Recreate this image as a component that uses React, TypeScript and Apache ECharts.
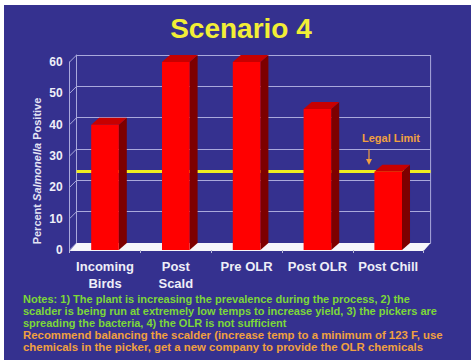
import React, { useEffect, useRef } from "react";
import * as echarts from "echarts";

const TITLE = "Scenario 4";
const CATEGORIES = ["Incoming\nBirds", "Post\nScald", "Pre OLR", "Post OLR", "Post Chill"];
const VALUES = [40, 60, 60, 45, 25];
const LEGAL_LIMIT = 23;
const Y_MIN = 0;
const Y_MAX = 60;
const Y_STEP = 10;
const Y_TICKS = [0, 10, 20, 30, 40, 50, 60];
const LEGAL_LABEL = "Legal Limit";
const NOTES_GREEN = [
  "Notes: 1) The plant is increasing the prevalence during the process, 2) the",
  "scalder is being run at extremely low temps to increase yield, 3) the pickers are",
  "spreading the bacteria, 4) the OLR is not sufficient",
];
const NOTES_ORANGE = [
  "Recommend balancing the scalder (increase temp to a minimum of 123 F, use",
  "chemicals in the picker, get a new company to provide the OLR chemicals",
];

const BG = "#35318f";
const GRID_COLOR = "#a9a9dc";
const FONT = "'Liberation Sans', Arial, sans-serif";
const DX = 7;
const DY = -7;

export default function App() {
  const ref = useRef<HTMLDivElement>(null);
  useEffect(() => {
    if (!ref.current) return;
    const chart = echarts.init(ref.current, null, { renderer: "svg" });

    const frontGrid = { left: 69.6, top: 62, width: 354, height: 188 };
    const backGrid = { left: 69.6 + DX, top: 62 + DY, width: 354, height: 188 };

    const graphics: any[] = [
      {
        type: "rect",
        z: -10,
        shape: { x: 4, y: 5, width: 471, height: 360 },
        style: { fill: BG },
        silent: true,
      },
      {
        type: "text",
        x: 241,
        y: 28,
        style: {
          text: TITLE,
          fill: "#f2ee36",
          font: `bold 28px ${FONT}`,
          align: "center",
          verticalAlign: "middle",
        },
      },
      {
        type: "text",
        x: 37,
        y: 171,
        rotation: Math.PI / 2,
        style: {
          text: "{a|Percent }{b|Salmonella}{a| Positive}",
          align: "center",
          verticalAlign: "middle",
          rich: {
            a: { fill: "#e4e4f4", font: `bold 11px ${FONT}` },
            b: { fill: "#e4e4f4", font: `italic bold 11px ${FONT}` },
          },
        },
      },
      {
        type: "text",
        x: 391,
        y: 138,
        z: 20,
        style: {
          text: LEGAL_LABEL,
          fill: "#f0a040",
          font: `bold 11px ${FONT}`,
          align: "center",
          verticalAlign: "middle",
        },
      },
      {
        type: "line",
        z: 20,
        shape: { x1: 369, y1: 149, x2: 369, y2: 160 },
        style: { stroke: "#f0a040", lineWidth: 1.2 },
      },
      {
        type: "polygon",
        z: 20,
        shape: { points: [[366, 159], [372, 159], [369, 165]] },
        style: { fill: "#f0a040" },
      },
    ];
    NOTES_GREEN.forEach((t, i) => {
      graphics.push({
        type: "text",
        x: 23,
        y: 299 + i * 12,
        style: { text: t, fill: "#7cd838", font: `bold 11px ${FONT}`, verticalAlign: "middle" },
      });
    });
    NOTES_ORANGE.forEach((t, i) => {
      graphics.push({
        type: "text",
        x: 23,
        y: 335 + i * 12,
        style: { text: t, fill: "#f0a040", font: `bold 11.4px ${FONT}`, verticalAlign: "middle" },
      });
    });

    const option: any = {
      animation: false,
      backgroundColor: "#ffffff",
      graphic: graphics,
      grid: [
        { ...frontGrid, containLabel: false },
        { ...backGrid, containLabel: false },
      ],
      xAxis: [
        {
          type: "category",
          gridIndex: 0,
          data: CATEGORIES,
          axisLine: { show: false },
          axisTick: { show: true, length: 3, lineStyle: { color: "#b8b8d8" } },
          axisLabel: {
            interval: 0,
            color: "#eeeef8",
            fontFamily: FONT,
            fontWeight: "bold",
            fontSize: 13,
            lineHeight: 17,
            margin: 8,
          },
          z: 15,
        },
        {
          type: "category",
          gridIndex: 1,
          data: CATEGORIES,
          show: false,
        },
      ],
      yAxis: [
        {
          type: "value",
          gridIndex: 0,
          min: Y_MIN,
          max: Y_MAX,
          interval: Y_STEP,
          splitLine: { show: false },
          axisTick: { show: false },
          axisLine: { show: true, lineStyle: { color: GRID_COLOR, width: 1 } },
          axisLabel: {
            color: "#eeeef8",
            fontFamily: FONT,
            fontWeight: "bold",
            fontSize: 12,
            margin: 7,
          },
        },
        {
          type: "value",
          gridIndex: 1,
          min: Y_MIN,
          max: Y_MAX,
          interval: Y_STEP,
          axisLabel: { show: false },
          axisTick: { show: false },
          axisLine: { show: true, lineStyle: { color: GRID_COLOR, width: 1 } },
          splitLine: { show: true, lineStyle: { color: GRID_COLOR, width: 1 } },
        },
      ],
      series: [
        {
          type: "custom",
          name: "walls",
          xAxisIndex: 1,
          yAxisIndex: 1,
          z: 1,
          data: Y_TICKS.map((v) => [0, v]),
          encode: { x: 0, y: 1 },
          renderItem: (params: any, api: any) => {
            const cs = params.coordSys;
            const p = api.coord([0, api.value(1)]);
            const children: any[] = [
              {
                type: "line",
                shape: { x1: cs.x, y1: p[1], x2: cs.x - DX, y2: p[1] - DY },
                style: { stroke: GRID_COLOR, lineWidth: 1 },
              },
            ];
            if (params.dataIndex === 0) {
              children.push({
                type: "line",
                shape: { x1: cs.x + cs.width, y1: cs.y, x2: cs.x + cs.width, y2: cs.y + cs.height },
                style: { stroke: GRID_COLOR, lineWidth: 1 },
              });
            }
            return { type: "group", children };
          },
          markLine: {
            silent: true,
            symbol: "none",
            label: { show: false },
            lineStyle: { color: "#f0ee20", width: 3, type: "solid" },
            data: [{ yAxis: LEGAL_LIMIT }],
          },
        },
        {
          type: "custom",
          name: "floor",
          xAxisIndex: 0,
          yAxisIndex: 0,
          z: 5,
          data: [[0, 0]],
          encode: { x: 0, y: 1 },
          renderItem: (params: any) => {
            const cs = params.coordSys;
            const yb = cs.y + cs.height;
            return {
              type: "polygon",
              shape: {
                points: [
                  [cs.x, yb + 1],
                  [cs.x + cs.width, yb + 1],
                  [cs.x + cs.width + DX, yb + DY],
                  [cs.x + DX, yb + DY],
                ],
              },
              style: { fill: "#f6f6fa" },
            };
          },
        },
        {
          type: "custom",
          name: "Percent Salmonella Positive",
          xAxisIndex: 0,
          yAxisIndex: 0,
          z: 10,
          data: VALUES.map((v, i) => [i, v]),
          encode: { x: 0, y: 1 },
          renderItem: (params: any, api: any) => {
            const top = api.coord([api.value(0), api.value(1)]);
            const base = api.coord([api.value(0), 0]);
            const w = api.size([1, 0])[0] * 0.39;
            const x0 = top[0] - w / 2;
            const x1 = top[0] + w / 2;
            const yt = top[1];
            const yb = base[1];
            return {
              type: "group",
              children: [
                {
                  type: "polygon",
                  shape: { points: [[x1, yt], [x1 + DX + 1, yt + DY], [x1 + DX + 1, yb + DY], [x1, yb]] },
                  style: { fill: "#7d0000" },
                },
                {
                  type: "polygon",
                  shape: { points: [[x0, yt], [x1, yt], [x1 + DX + 1, yt + DY], [x0 + DX + 1, yt + DY]] },
                  style: { fill: "#c80000" },
                },
                {
                  type: "rect",
                  shape: { x: x0, y: yt, width: w, height: yb - yt },
                  style: { fill: "#ff0000" },
                },
              ],
            };
          },
        },
      ],
    };
    chart.setOption(option);
    return () => chart.dispose();
  }, []);
  return (
    <div
      ref={ref}
      style={{ position: "fixed", left: 0, top: 0, width: 471, height: 360 }}
    />
  );
}
